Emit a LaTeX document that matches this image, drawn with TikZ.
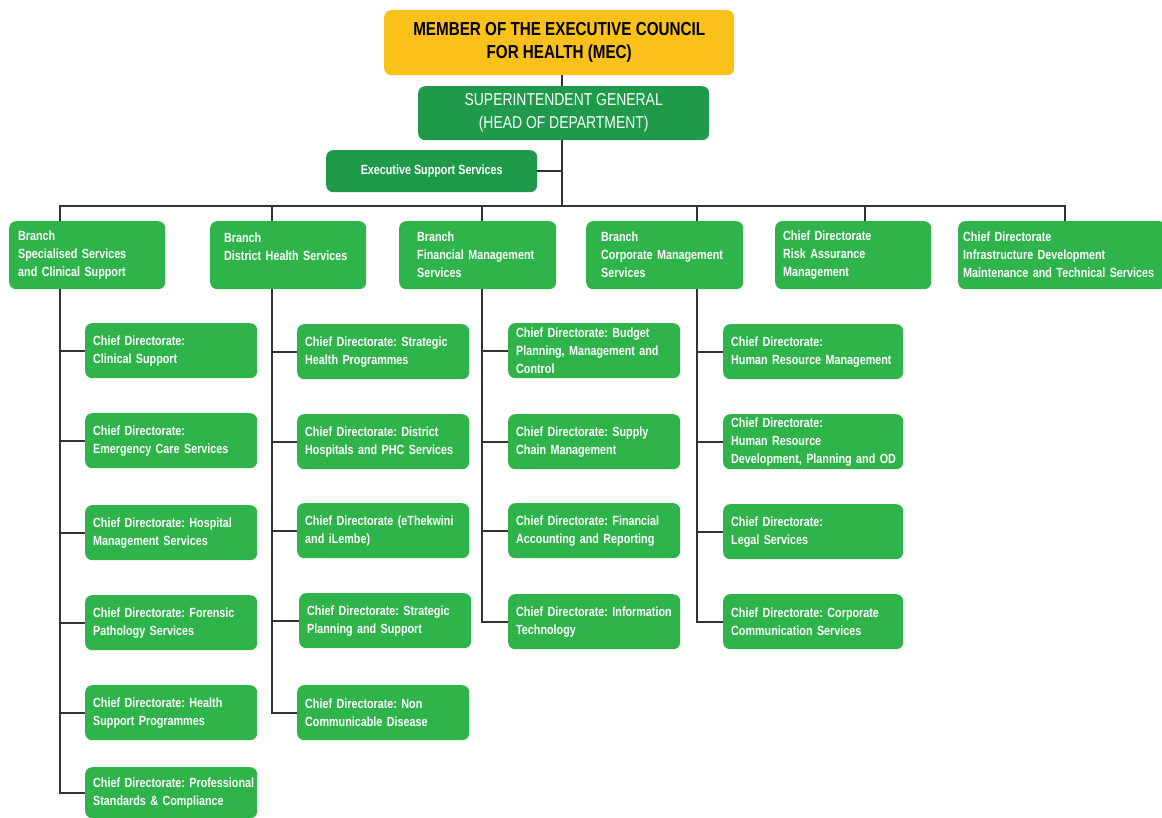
\documentclass[tikz,border=0pt]{standalone}
\usepackage{fontspec}
\usepackage{tikz}
\usetikzlibrary{positioning}
\newfontfamily\orgfont[FakeStretch=0.81]{Liberation Sans}
\definecolor{mecyellow}{HTML}{F9C11A}
\definecolor{hodgreen}{HTML}{1E9A4A}
\definecolor{unitgreen}{HTML}{2FB34B}
\definecolor{linkgray}{HTML}{333333}
\frenchspacing
\hyphenpenalty=10000
\exhyphenpenalty=10000
\tikzset{
  box/.style={rounded corners=7pt, anchor=north west, inner ysep=0pt},
  unit/.style={box, fill=unitgreen, text=white, font=\orgfont\bfseries\fontsize{13.3}{18}\selectfont,
    align=left, inner xsep=8pt, text width=156pt, minimum height=55pt},
  branch/.style={unit, minimum height=68pt},
  link/.style={draw=linkgray, line width=2pt},
}

\begin{document}
\begin{tikzpicture}[x=1pt,y=-1pt]

\useasboundingbox (0,0) rectangle (1162,818);

\node[box, fill=mecyellow, minimum width=350pt, minimum height=65pt, align=center,
  font=\orgfont\bfseries\fontsize{18.8}{23}\selectfont] (mec) at (384,10)
  {MEMBER OF THE EXECUTIVE COUNCIL\\FOR HEALTH (MEC)};
\node[box, fill=hodgreen, text=white, minimum width=291pt, minimum height=54pt, align=center,
  font=\orgfont\fontsize{17.2}{23}\selectfont] (hod) at (418,86)
  {SUPERINTENDENT GENERAL\\(HEAD OF DEPARTMENT)};
\node[box, fill=hodgreen, text=white, minimum width=211pt, minimum height=42pt,
  font=\orgfont\bfseries\fontsize{13.3}{18}\selectfont] (ess) at (326,150)
  {Executive Support Services};

\node[branch, inner xsep=9pt, text width=138pt] (bsc) at (9,221)
  {Branch\\Specialised Services\\and Clinical Support};
\node[branch, inner xsep=14pt, text width=128pt] (bdh) at (210,221)
  {Branch\\District Health Services\\\mbox{}};
\node[branch, inner xsep=18pt, text width=121pt] (bfm) at (399,221)
  {Branch\\Financial Management\\Services};
\node[branch, inner xsep=15pt, text width=127pt] (bcm) at (586,221)
  {Branch\\Corporate Management\\Services};
\node[branch, inner xsep=8pt, text width=140pt] (cdra) at (775,221)
  {Chief Directorate\\Risk Assurance\\Management};
\node[branch, inner xsep=5pt, text width=198pt] (cdid) at (958,221)
  {Chief Directorate\\Infrastructure Development\\Maintenance and Technical Services};

\node[unit] (sc1) at (85,323) {Chief Directorate:\\Clinical Support};
\node[unit] (sc2) at (85,413) {Chief Directorate:\\Emergency Care Services};
\node[unit] (sc3) at (85,505) {Chief Directorate: Hospital\\Management Services};
\node[unit] (sc4) at (85,595) {Chief Directorate: Forensic\\Pathology Services};
\node[unit] (sc5) at (85,685) {Chief Directorate: Health\\Support Programmes};
\node[unit, minimum height=51pt] (sc6) at (85,767) {Chief~Directorate:~Professional\\Standards \& Compliance};

\node[unit] (dh1) at (297,324) {Chief Directorate: Strategic\\Health Programmes};
\node[unit] (dh2) at (297,414) {Chief Directorate: District\\Hospitals and PHC Services};
\node[unit] (dh3) at (297,503) {Chief Directorate (eThekwini\\and iLembe)};
\node[unit] (dh4) at (299,593) {Chief Directorate: Strategic\\Planning and Support};
\node[unit] (dh5) at (297,685) {Chief Directorate: Non\\Communicable Disease};

\node[unit] (fm1) at (508,323) {Chief Directorate: Budget\\Planning, Management and\\Control};
\node[unit] (fm2) at (508,414) {Chief Directorate: Supply\\Chain Management};
\node[unit] (fm3) at (508,503) {Chief Directorate: Financial\\Accounting and Reporting};
\node[unit] (fm4) at (508,594) {Chief~Directorate:~Information\\Technology};

\node[unit, text width=164pt] (cm1) at (723,324) {Chief Directorate:\\Human~Resource~Management};
\node[unit, text width=164pt] (cm2) at (723,414) {Chief Directorate:\\Human Resource\\Development,~Planning~and~OD};
\node[unit, text width=164pt] (cm3) at (723,504) {Chief Directorate:\\Legal Services};
\node[unit, text width=164pt] (cm4) at (723,594) {Chief Directorate: Corporate\\Communication Services};

\coordinate (top) at (562,206);
\coordinate (tsc) at (60,206);
\coordinate (tdh) at (272,206);
\coordinate (tfm) at (482,206);
\coordinate (tcm) at (697,206);
\coordinate (tra) at (865,206);
\coordinate (tid) at (1065,206);

\draw[link] (mec.south -| top) -- (hod.north -| top);
\draw[link] (hod.south -| top) -- (top);
\draw[link] (ess.east) -- (ess.east -| top);
\draw[link] (tsc |- bsc.north) -- (tsc) -- (tid) -- (tid |- cdid.north);
\draw[link] (tdh) -- (tdh |- bdh.north);
\draw[link] (tfm) -- (tfm |- bfm.north);
\draw[link] (tcm) -- (tcm |- bcm.north);
\draw[link] (tra) -- (tra |- cdra.north);

\draw[link] (tsc |- bsc.south) |- (sc1.west);
\draw[link] (tsc |- bsc.south) |- (sc2.west);
\draw[link] (tsc |- bsc.south) |- (sc3.west);
\draw[link] (tsc |- bsc.south) |- (sc4.west);
\draw[link] (tsc |- bsc.south) |- (sc5.west);
\draw[link] (tsc |- bsc.south) |- (sc6.west);

\draw[link] (tdh |- bdh.south) |- (dh1.west);
\draw[link] (tdh |- bdh.south) |- (dh2.west);
\draw[link] (tdh |- bdh.south) |- (dh3.west);
\draw[link] (tdh |- bdh.south) |- (dh4.west);
\draw[link] (tdh |- bdh.south) |- (dh5.west);

\draw[link] (tfm |- bfm.south) |- (fm1.west);
\draw[link] (tfm |- bfm.south) |- (fm2.west);
\draw[link] (tfm |- bfm.south) |- (fm3.west);
\draw[link] (tfm |- bfm.south) |- (fm4.west);

\draw[link] (tcm |- bcm.south) |- (cm1.west);
\draw[link] (tcm |- bcm.south) |- (cm2.west);
\draw[link] (tcm |- bcm.south) |- (cm3.west);
\draw[link] (tcm |- bcm.south) |- (cm4.west);

\end{tikzpicture}
\end{document}
